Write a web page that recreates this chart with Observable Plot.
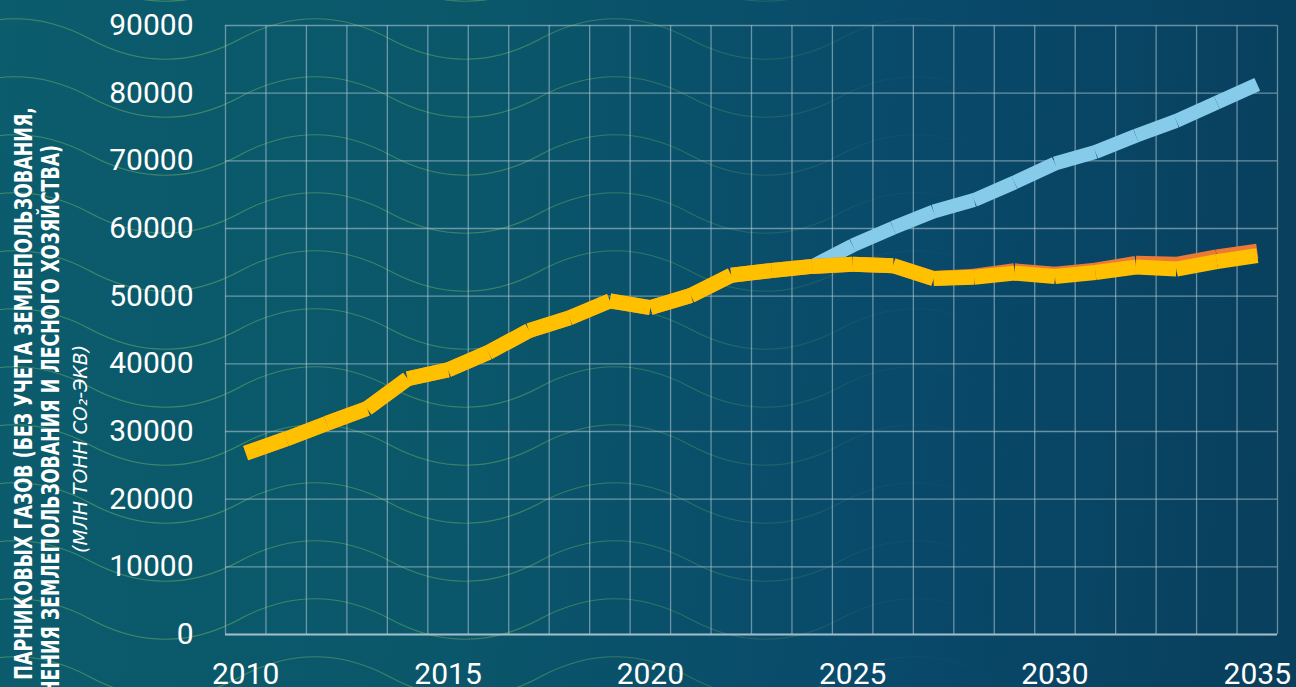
<!DOCTYPE html>
<html><head><meta charset="utf-8">
<script src="https://cdn.jsdelivr.net/npm/d3@7"></script>
<script src="https://cdn.jsdelivr.net/npm/@observablehq/plot@0.6"></script>
<style>
html,body{margin:0;padding:0;overflow:hidden;background:#0a4b64;}
#wrap{position:relative;width:1296px;height:687px;overflow:hidden;background:linear-gradient(95deg,#0b5c6d 0%,#0a576a 35%,#09496a 70%,#083f5c 100%);}
#waves{position:absolute;left:0;top:0;width:1296px;height:687px;
 -webkit-mask-image:linear-gradient(90deg,rgba(0,0,0,1) 0%,rgba(0,0,0,0.85) 45%,rgba(0,0,0,0.15) 68%,rgba(0,0,0,0) 80%);
 mask-image:linear-gradient(90deg,rgba(0,0,0,1) 0%,rgba(0,0,0,0.85) 45%,rgba(0,0,0,0.15) 68%,rgba(0,0,0,0) 80%);}
#chart{position:absolute;left:0;top:0;}
</style></head>
<body>
<div id="wrap"><div id="waves"></div><div id="chart"></div></div>
<script>
// ---- data ----
const years = [2010,2011,2012,2013,2014,2015,2016,2017,2018,2019,2020,2021,2022,2023,2024,2025,2026,2027,2028,2029,2030,2031,2032,2033,2034,2035];
const yellowValues = [26800,28900,31200,33400,37800,39100,41700,44900,46800,49300,48300,50100,53100,53800,54400,54700,54500,52600,52800,53400,52900,53500,54300,54000,55100,56000];
const orangeValues = [26800,28900,31200,33400,37800,39100,41700,44900,46800,49300,48300,50100,53100,53800,54400,54700,54500,52600,52950,53750,53250,53850,54850,54700,55800,56650];
const blueYears = [2023,2024,2025,2026,2027,2028,2029,2030,2031,2032,2033,2034,2035];
const blueValues = [53800,54400,57500,60100,62500,64200,66800,69600,71300,73700,75900,78600,81300];
const yTicks = [0,10000,20000,30000,40000,50000,60000,70000,80000,90000];
const xTicks = [2010,2015,2020,2025,2030,2035];
const yLabel1 = "ВЫБРОСЫ ПАРНИКОВЫХ ГАЗОВ (БЕЗ УЧЕТА ЗЕМЛЕПОЛЬЗОВАНИЯ,";
const yLabel2 = "ИЗМЕНЕНИЯ ЗЕМЛЕПОЛЬЗОВАНИЯ И ЛЕСНОГО ХОЗЯЙСТВА)";
const yLabel3 = "(МЛН ТОНН CO₂-ЭКВ)";

// decorative background waves
const waveSvg = `<svg xmlns='http://www.w3.org/2000/svg' width='300' height='58'><path d='M0 29 C50 2 100 2 150 29 C200 56 250 56 300 29' fill='none' stroke='rgb(130,195,100)' stroke-opacity='0.45' stroke-width='1.2'/></svg>`;
const wv = document.getElementById("waves");
wv.style.backgroundImage = `url("data:image/svg+xml,${encodeURIComponent(waveSvg)}")`;
wv.style.backgroundSize = "300px 58px";
wv.style.backgroundPosition = "-60px 10px";

const segs = (xs, vs) => xs.slice(0, -1).map((x, i) => ({x1: x, y1: vs[i], x2: xs[i + 1], y2: vs[i + 1]}));
const edges = years.map(y => y - 0.5).concat([years[years.length - 1] + 0.5]);
const grid = "rgb(170,195,208)";
const narrow = "'Liberation Sans Narrow','DejaVu Sans Condensed',sans-serif";

const plot = Plot.plot({
  width: 1296, height: 687,
  marginLeft: 225, marginRight: 19, marginTop: 25, marginBottom: 53,
  style: {background: "transparent", color: "white", fontFamily: "Roboto, sans-serif", fontSize: "30px", overflow: "visible"},
  x: {domain: [years[0] - 0.5, years[years.length - 1] + 0.5], ticks: xTicks, tickFormat: d => String(d), tickSize: 0, tickPadding: 28, label: null},
  y: {domain: [0, 90000], ticks: yTicks, tickFormat: d => String(d), tickSize: 0, tickPadding: 32, label: null},
  marks: [
    Plot.ruleX(edges, {stroke: grid, strokeOpacity: 0.6, strokeWidth: 1.3}),
    Plot.ruleY(yTicks, {stroke: grid, strokeOpacity: 0.6, strokeWidth: 1.3}),
    Plot.ruleY([0], {stroke: grid, strokeOpacity: 0.85, strokeWidth: 2}),
    Plot.link(segs(blueYears, blueValues), {x1: "x1", y1: "y1", x2: "x2", y2: "y2", stroke: "#86cbea", strokeWidth: 14, strokeLinecap: "butt"}),
    Plot.link(segs(years, orangeValues), {x1: "x1", y1: "y1", x2: "x2", y2: "y2", stroke: "#ec7a35", strokeWidth: 15, strokeLinecap: "butt"}),
    Plot.link(segs(years, yellowValues), {x1: "x1", y1: "y1", x2: "x2", y2: "y2", stroke: "#ffc000", strokeWidth: 15, strokeLinecap: "butt"}),
    Plot.text([yLabel1], {text: d => d, frameAnchor: "left", textAnchor: "middle", rotate: -90, dx: -201, dy: 118, fontSize: 24, fontWeight: "bold", fontFamily: narrow, fill: "white"}),
    Plot.text([yLabel2], {text: d => d, frameAnchor: "left", textAnchor: "middle", rotate: -90, dx: -174, dy: 118, fontSize: 24, fontWeight: "bold", fontFamily: narrow, fill: "white"}),
    Plot.text([yLabel3], {text: d => d, frameAnchor: "left", textAnchor: "middle", rotate: -90, dx: -145, dy: 119, fontSize: 20, fontStyle: "italic", fontFamily: narrow, fill: "white"})
  ]
});
document.getElementById("chart").appendChild(plot);
const lens = new Map([[yLabel1, 682], [yLabel2, 606], [yLabel3, 208]]);
d3.select(plot).selectAll("text").each(function() {
  const t = this.textContent;
  if (lens.has(t)) { this.setAttribute("textLength", lens.get(t)); this.setAttribute("lengthAdjust", "spacingAndGlyphs"); }
});
</script>
</body></html>
